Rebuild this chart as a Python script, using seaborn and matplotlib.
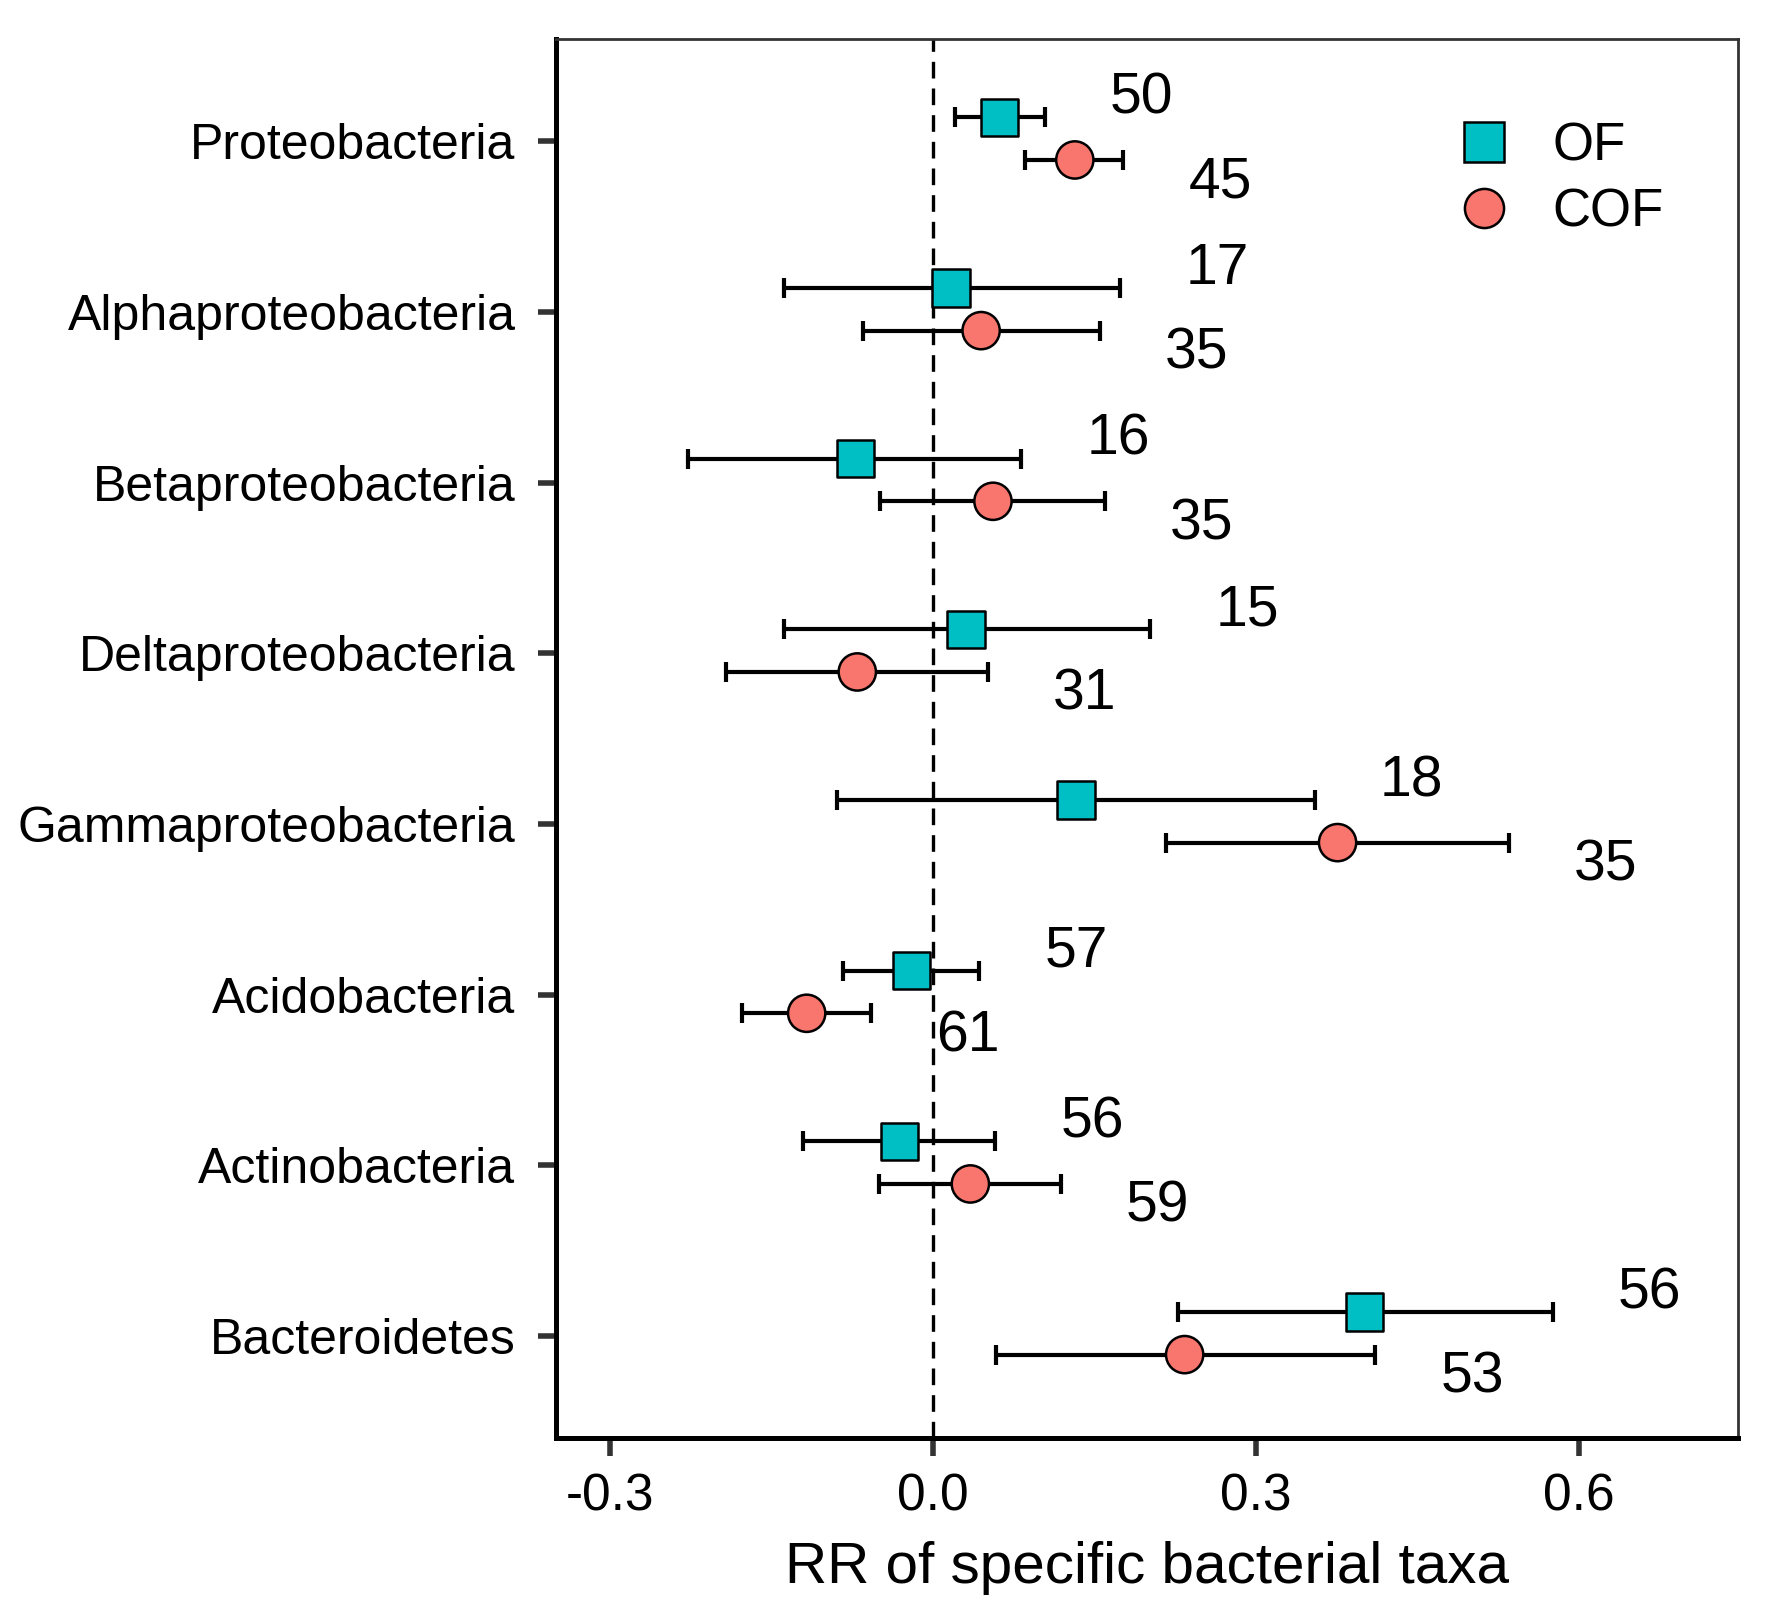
import matplotlib
matplotlib.use("Agg")
import matplotlib.pyplot as plt
import seaborn as sns
import numpy as np
import pandas as pd

taxa = ['Proteobacteria', 'Alphaproteobacteria', 'Betaproteobacteria',
        'Deltaproteobacteria', 'Gammaproteobacteria', 'Acidobacteria',
        'Actinobacteria', 'Bacteroidetes']

of_mean = [0.062, 0.017, -0.072, 0.031, 0.133, -0.020, -0.031, 0.401]
of_low = [0.021, -0.138, -0.227, -0.138, -0.089, -0.083, -0.120, 0.228]
of_high = [0.104, 0.174, 0.082, 0.202, 0.355, 0.043, 0.058, 0.576]
of_n = [50, 17, 16, 15, 18, 57, 56, 56]

cof_mean = [0.132, 0.045, 0.056, -0.070, 0.376, -0.117, 0.035, 0.234]
cof_low = [0.086, -0.065, -0.049, -0.192, 0.217, -0.177, -0.050, 0.059]
cof_high = [0.177, 0.155, 0.160, 0.051, 0.535, -0.057, 0.119, 0.411]
cof_n = [45, 35, 35, 31, 35, 61, 59, 53]

colors = {'OF': '#00BFC4', 'COF': '#F8766D'}
offsets = {'OF': -0.14, 'COF': 0.11}
label_offsets = {'OF': -0.25, 'COF': 0.245}

rows = []
for grp, m, lo, hi, n in [('OF', of_mean, of_low, of_high, of_n),
                          ('COF', cof_mean, cof_low, cof_high, cof_n)]:
    for i, t in enumerate(taxa):
        rows.append(dict(taxon=t, group=grp, rr=m[i], low=lo[i], high=hi[i], n=n[i],
                         ypos=i + offsets[grp], ylab=i + label_offsets[grp]))
df = pd.DataFrame(rows)

sns.set_style('white')
plt.rcParams['font.family'] = ['Liberation Sans', 'DejaVu Sans']
plt.rcParams['text.color'] = 'black'
plt.rcParams['xtick.labelcolor'] = 'black'
plt.rcParams['ytick.labelcolor'] = 'black'
plt.rcParams['axes.labelcolor'] = 'black'

fig = plt.figure(figsize=(17.7, 16.16), dpi=100)
ax = fig.add_axes([0.314, 0.110, 0.668, 0.866])

ax.axvline(0, color='black', linestyle=(0, (5, 3)), linewidth=2.4, zorder=1)

for grp in ['OF', 'COF']:
    d = df[df.group == grp]
    ax.errorbar(d.rr, d.ypos, xerr=[d.rr - d.low, d.high - d.rr], fmt='none',
                ecolor='black', elinewidth=3.0, capsize=7, capthick=3.0, zorder=2)

sns.scatterplot(data=df, x='rr', y='ypos', hue='group', style='group',
                palette=colors, markers={'OF': 's', 'COF': 'o'},
                hue_order=['OF', 'COF'], style_order=['OF', 'COF'],
                s=720, edgecolor='black', linewidth=1.8, zorder=3, ax=ax)

for _, r in df.iterrows():
    ax.text(r.high + 0.09, r.ylab, str(r.n), ha='center', va='center',
            fontsize=41, color='black')

ax.set_xlim(-0.35, 0.748)
ax.set_ylim(7.6, -0.6)
ax.set_yticks(range(len(taxa)))
ax.set_yticklabels(taxa)
ax.set_xticks([-0.3, 0.0, 0.3, 0.6])
ax.set_xticklabels(['-0.3', '0.0', '0.3', '0.6'])
ax.tick_params(axis='both', labelsize=37, length=13, width=4, color='#333333',
               direction='out', left=True, bottom=True)
ax.tick_params(axis='y', labelsize=36, pad=16)
ax.tick_params(axis='x', pad=12)
ax.set_xlabel('RR of specific bacterial taxa', fontsize=42, labelpad=14)
ax.set_ylabel('')

for side in ['left', 'bottom']:
    ax.spines[side].set_linewidth(3.6)
    ax.spines[side].set_color('black')
for side in ['top', 'right']:
    ax.spines[side].set_linewidth(2)
    ax.spines[side].set_color('#333333')

handles, labels = ax.get_legend_handles_labels()
ax.legend(handles=handles, labels=labels, loc='upper left',
          bbox_to_anchor=(0.70, 0.975), frameon=False, fontsize=38,
          markerscale=1.05, handletextpad=0.3, labelspacing=0.3)

fig.savefig('out.png', dpi=100)
